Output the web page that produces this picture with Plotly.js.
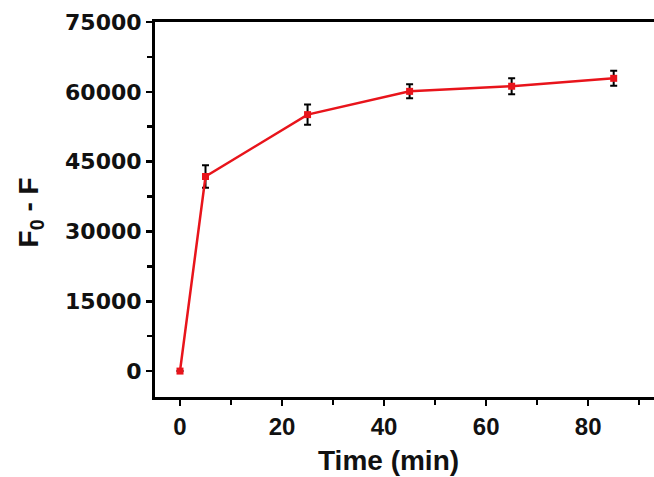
<!DOCTYPE html>
<html>
<head>
<meta charset="utf-8">
<script src="https://cdn.plot.ly/plotly-3.0.1.min.js"></script>
<style>html,body{margin:0;padding:0;background:#fff;}#chart{width:654px;height:477px;}</style>
</head>
<body>
<div id="chart"></div>
<script>
const timeMin = [0, 5, 25, 45, 65, 85];
const signal = [0, 41800, 55100, 60100, 61200, 62900];
const errors = [0, 2400, 2200, 1500, 1700, 1600];
const xTicks = [0, 20, 40, 60, 80];
const yTicks = [0, 15000, 30000, 45000, 60000, 75000];
const xTitle = 'Time (min)';
const yTitle = 'F<sub>0</sub> - F';

const arialBold = 'Liberation Sans, Arial, sans-serif';
const xTickFont = {family: arialBold, size: 24, color: '#111', weight: 'bold'};
const yTickFont = {family: 'DejaVu Sans, Liberation Sans, sans-serif', size: 22, color: '#111', weight: 'bold'};
const titleFont = {family: arialBold, size: 28, color: '#111', weight: 'bold'};

Plotly.newPlot('chart', [{
  x: timeMin, y: signal, type: 'scatter', mode: 'lines+markers',
  line: {color: '#e8141b', width: 2.5},
  marker: {color: '#e8141b', symbol: 'square', size: 7},
  error_y: {type: 'data', array: errors, visible: true, color: '#000', thickness: 2, width: 3.5},
  showlegend: false
}], {
  width: 654, height: 477,
  margin: {l: 155, r: 0, t: 22, b: 80},
  paper_bgcolor: '#fff', plot_bgcolor: '#fff',
  font: xTickFont,
  xaxis: {
    range: [-4.9, 92.9], tickvals: xTicks, ticktext: xTicks.map(String),
    showgrid: false, zeroline: false, showline: true, linecolor: '#000', linewidth: 3,
    mirror: true, ticks: 'outside', ticklen: 6, tickwidth: 2.5, tickcolor: '#000',
    minor: {tickvals: [10, 30, 50, 70, 90], ticks: 'outside', ticklen: 5, tickwidth: 2.5, tickcolor: '#000'},
    tickfont: xTickFont
  },
  yaxis: {
    range: [-5570, 75000], tickvals: yTicks, ticktext: yTicks.map(String),
    showgrid: false, zeroline: false, showline: true, linecolor: '#000', linewidth: 3,
    ticks: 'outside', ticklen: 6, tickwidth: 2.5, tickcolor: '#000',
    minor: {tickvals: [7500, 22500, 37500, 52500, 67500], ticks: 'outside', ticklen: 5, tickwidth: 2.5, tickcolor: '#000'},
    tickfont: yTickFont
  },
  annotations: [
    {text: xTitle, xref: 'paper', yref: 'paper', x: 0.467, y: -0.168, xanchor: 'center', yanchor: 'middle',
     showarrow: false, font: titleFont},
    {text: yTitle, xref: 'paper', yref: 'paper', x: -0.25, y: 0.493, xanchor: 'center', yanchor: 'middle',
     textangle: -90, showarrow: false, font: titleFont}
  ]
}, {staticPlot: true});
</script>
</body>
</html>
